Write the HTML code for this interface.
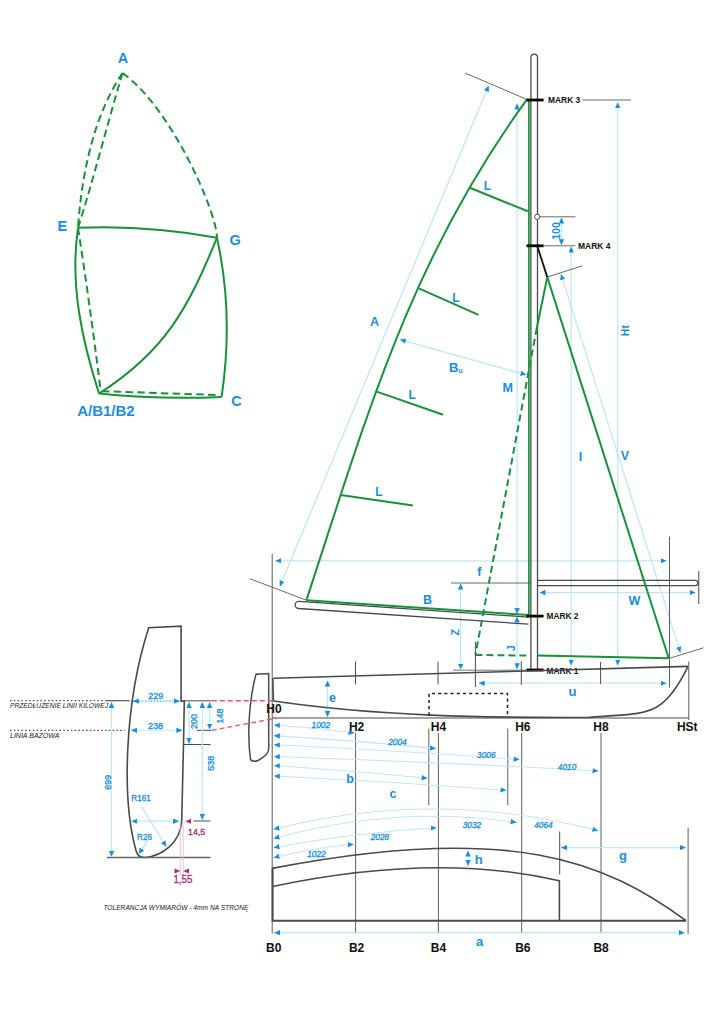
<!DOCTYPE html>
<html><head><meta charset="utf-8"><style>
html,body{margin:0;padding:0;background:#fff;}
svg{display:block;font-family:"Liberation Sans", sans-serif;}
</style></head><body>
<svg width="724" height="1024" viewBox="0 0 724 1024">
<defs>
<marker id="ar" viewBox="0 0 6 5.4" refX="6" refY="2.7" markerWidth="6" markerHeight="5.4" markerUnits="userSpaceOnUse" orient="auto-start-reverse"><path d="M0,0 L6,2.7 L0,5.4 Z" fill="#1a8edc"/></marker>
</defs>
<rect width="724" height="1024" fill="#fff"/>
<path d="M122.5,73.1 Q85.0,128.9 78.0,227.8" stroke="#18923a" stroke-width="2.0" fill="none" stroke-dasharray="7.5 4.3"/>
<path d="M122.5,73.1 C107.7,122.6 93.0,181.2 78.0,227.8" stroke="#18923a" stroke-width="2.0" fill="none" stroke-dasharray="7.5 4.3"/>
<path d="M122.5,73.1 C170.6,106.6 217.5,213.1 216.9,237.8" stroke="#18923a" stroke-width="2.0" fill="none" stroke-dasharray="7.5 4.3"/>
<path d="M78.0,227.8 Q89.3,300.3 100.5,389.3" stroke="#18923a" stroke-width="2.0" fill="none" stroke-dasharray="7.5 4.3"/>
<path d="M101.9,391.2 L219.7,395.1" stroke="#18923a" stroke-width="2.0" fill="none" stroke-dasharray="7.5 4.3"/>
<path d="M78.0,227.8 Q147.3,224.8 216.9,237.8" stroke="#18923a" stroke-width="2.0" fill="none" />
<path d="M78.0,227.8 C69.8,284.7 81.8,339.5 99.0,393.5" stroke="#18923a" stroke-width="2.0" fill="none" />
<path d="M216.9,237.8 Q234.0,313.6 221.6,397.0" stroke="#18923a" stroke-width="2.0" fill="none" />
<path d="M99.0,393.5 Q160.0,399.8 221.6,397.0" stroke="#18923a" stroke-width="2.0" fill="none" />
<path d="M99.0,393.5 C166.0,350.8 188.6,306.9 216.9,237.8" stroke="#18923a" stroke-width="2.0" fill="none" />
<text x="122.9" y="58.3" font-size="14.5" fill="#1a8edc" font-weight="bold" text-anchor="middle" dominant-baseline="central">A</text>
<text x="62.3" y="225.8" font-size="14.5" fill="#1a8edc" font-weight="bold" text-anchor="middle" dominant-baseline="central">E</text>
<text x="235.1" y="240.2" font-size="14.5" fill="#1a8edc" font-weight="bold" text-anchor="middle" dominant-baseline="central">G</text>
<text x="236.4" y="400.6" font-size="14.5" fill="#1a8edc" font-weight="bold" text-anchor="middle" dominant-baseline="central">C</text>
<text x="105.9" y="410.8" font-size="15" fill="#1a8edc" font-weight="bold" text-anchor="middle" dominant-baseline="central" textLength="57.5" lengthAdjust="spacingAndGlyphs">A/B1/B2</text>
<line x1="488.7" y1="85.6" x2="279.8" y2="586.5" stroke="#c2e4f7" stroke-width="1.25" marker-end="url(#ar)" marker-start="url(#ar)"/>
<line x1="465.2" y1="73.1" x2="526.8" y2="99.4" stroke="#6a6a6a" stroke-width="1" />
<line x1="250.0" y1="578.8" x2="306.4" y2="600.2" stroke="#6a6a6a" stroke-width="1" />
<line x1="400.0" y1="339.6" x2="526.4" y2="374.9" stroke="#c2e4f7" stroke-width="1.25" marker-end="url(#ar)" marker-start="url(#ar)"/>
<line x1="517.1" y1="103.5" x2="517.1" y2="614.0" stroke="#c2e4f7" stroke-width="1.25" marker-end="url(#ar)" marker-start="url(#ar)"/>
<line x1="517.1" y1="616.5" x2="517.1" y2="669.3" stroke="#c2e4f7" stroke-width="1.25" marker-end="url(#ar)" marker-start="url(#ar)"/>
<line x1="617.7" y1="102.2" x2="617.7" y2="665.5" stroke="#c2e4f7" stroke-width="1.25" marker-end="url(#ar)" marker-start="url(#ar)"/>
<line x1="571.2" y1="246.5" x2="571.2" y2="665.5" stroke="#c2e4f7" stroke-width="1.25" marker-end="url(#ar)" marker-start="url(#ar)"/>
<line x1="560.9" y1="273.9" x2="680.4" y2="652.7" stroke="#c2e4f7" stroke-width="1.25" marker-end="url(#ar)" marker-start="url(#ar)"/>
<line x1="547.3" y1="277.1" x2="582.1" y2="265.9" stroke="#6a6a6a" stroke-width="1" />
<line x1="669.8" y1="658.2" x2="703.6" y2="647.8" stroke="#6a6a6a" stroke-width="1" />
<line x1="275.4" y1="560.8" x2="666.5" y2="560.8" stroke="#c2e4f7" stroke-width="1.25" marker-end="url(#ar)" marker-start="url(#ar)"/>
<line x1="539.5" y1="592.6" x2="695.5" y2="592.6" stroke="#c2e4f7" stroke-width="1.25" marker-end="url(#ar)" marker-start="url(#ar)"/>
<line x1="460.6" y1="583.5" x2="460.6" y2="669.5" stroke="#c2e4f7" stroke-width="1.25" marker-end="url(#ar)" marker-start="url(#ar)"/>
<line x1="478.7" y1="683.2" x2="666.5" y2="683.2" stroke="#c2e4f7" stroke-width="1.25" marker-end="url(#ar)" marker-start="url(#ar)"/>
<line x1="327.5" y1="680.5" x2="327.5" y2="717.0" stroke="#c2e4f7" stroke-width="1.25" marker-end="url(#ar)" marker-start="url(#ar)"/>
<line x1="561.5" y1="217.5" x2="561.5" y2="245.3" stroke="#c2e4f7" stroke-width="1.25" marker-end="url(#ar)" marker-start="url(#ar)"/>
<line x1="272.2" y1="554.0" x2="272.2" y2="933.5" stroke="#5e5e5e" stroke-width="1" />
<line x1="669.5" y1="536.6" x2="669.5" y2="687.7" stroke="#5e5e5e" stroke-width="1" />
<line x1="698.8" y1="571.0" x2="698.8" y2="604.0" stroke="#4a4a4a" stroke-width="1" />
<line x1="451.0" y1="583.0" x2="530.6" y2="583.0" stroke="#6a6a6a" stroke-width="1" />
<line x1="453.0" y1="670.2" x2="527.0" y2="670.2" stroke="#777" stroke-width="1" />
<line x1="582.6" y1="100.0" x2="631.0" y2="100.0" stroke="#6a6a6a" stroke-width="1" />
<line x1="540.0" y1="216.8" x2="575.4" y2="216.8" stroke="#6a6a6a" stroke-width="1" />
<line x1="543.6" y1="245.8" x2="575.4" y2="245.8" stroke="#6a6a6a" stroke-width="1" />
<path d="M530.9,670 L530.9,57.5 A3.3,3.3 0 0 1 537.5,57.5 L537.5,670" stroke="#4a4a4a" stroke-width="1.3" fill="none" />
<path d="M537.5,580.4 L695.3,580.4 A2.65,2.65 0 0 1 695.3,585.7 L537.5,585.7" stroke="#4a4a4a" stroke-width="1.3" fill="none" />
<path d="M528.5,617.1 L299,601.3 A3.6,3.6 0 0 0 298.5,608.5 L528.5,624.2" stroke="#4a4a4a" stroke-width="1.3" fill="none" />
<path d="M528.9,99.4 L528.9,615.1" stroke="#18923a" stroke-width="1.7" fill="none" />
<path d="M527.0,99.4 C410.7,258.9 367.6,413.6 306.4,600.2" stroke="#18923a" stroke-width="2.0" fill="none" />
<path d="M306.4,600.2 L528.9,615.1" stroke="#18923a" stroke-width="2.0" fill="none" />
<line x1="469.8" y1="187.8" x2="527.8" y2="211.3" stroke="#18923a" stroke-width="2.0" />
<line x1="418.8" y1="288.3" x2="478.5" y2="314.8" stroke="#18923a" stroke-width="2.0" />
<line x1="376.0" y1="391.4" x2="443.1" y2="414.7" stroke="#18923a" stroke-width="2.0" />
<line x1="340.6" y1="495.1" x2="413.0" y2="505.6" stroke="#18923a" stroke-width="2.0" />
<line x1="537.1" y1="245.6" x2="547.3" y2="277.1" stroke="#111" stroke-width="1.8" />
<path d="M547.3,277.1 L536.8,328 " stroke="#18923a" stroke-width="2.0" fill="none" />
<path d="M536.8,328 L475.4,654.9" stroke="#18923a" stroke-width="2.0" fill="none" stroke-dasharray="7 4"/>
<path d="M547.3,277.1 L668.7,658.2" stroke="#18923a" stroke-width="2.0" fill="none" />
<path d="M475.4,654.9 L530.6,655.6" stroke="#18923a" stroke-width="2.0" fill="none" stroke-dasharray="7 4"/>
<path d="M537.2,655.6 L668.7,658.2" stroke="#18923a" stroke-width="2.0" fill="none" />
<line x1="526.5" y1="100.0" x2="543.6" y2="100.0" stroke="#000" stroke-width="2.8" />
<line x1="526.5" y1="245.8" x2="543.6" y2="245.8" stroke="#000" stroke-width="2.8" />
<line x1="526.5" y1="616.1" x2="543.6" y2="616.1" stroke="#000" stroke-width="2.8" />
<line x1="526.5" y1="670.0" x2="543.6" y2="670.0" stroke="#000" stroke-width="2.8" />
<circle cx="537.2" cy="216.8" r="2.6" fill="white" stroke="#4a4a4a" stroke-width="1"/>
<text x="548.0" y="100.3" font-size="9.2" fill="#111" font-weight="bold" text-anchor="start" dominant-baseline="central" textLength="32.3" lengthAdjust="spacingAndGlyphs">MARK 3</text>
<text x="578.0" y="246.0" font-size="9.2" fill="#111" font-weight="bold" text-anchor="start" dominant-baseline="central" textLength="32.5" lengthAdjust="spacingAndGlyphs">MARK 4</text>
<text x="546.5" y="616.4" font-size="9.2" fill="#111" font-weight="bold" text-anchor="start" dominant-baseline="central" textLength="32" lengthAdjust="spacingAndGlyphs">MARK 2</text>
<text x="546.5" y="670.6" font-size="9.2" fill="#111" font-weight="bold" text-anchor="start" dominant-baseline="central" textLength="32" lengthAdjust="spacingAndGlyphs">MARK 1</text>
<text x="556.0" y="231.0" font-size="10.5" fill="#1a8edc" font-weight="bold" text-anchor="middle" dominant-baseline="central" transform="rotate(-90 556.0 231.0)">100</text>
<text x="487.5" y="185.5" font-size="12" fill="#1a8edc" font-weight="bold" text-anchor="middle" dominant-baseline="central">L</text>
<text x="455.9" y="297.6" font-size="12" fill="#1a8edc" font-weight="bold" text-anchor="middle" dominant-baseline="central">L</text>
<text x="412.2" y="395.0" font-size="12" fill="#1a8edc" font-weight="bold" text-anchor="middle" dominant-baseline="central">L</text>
<text x="379.0" y="491.5" font-size="12" fill="#1a8edc" font-weight="bold" text-anchor="middle" dominant-baseline="central">L</text>
<text x="374.6" y="321.5" font-size="12.5" fill="#1a8edc" font-weight="bold" text-anchor="middle" dominant-baseline="central">A</text>
<text x="449" y="367.2" font-size="13" fill="#1a8edc" font-weight="bold" dominant-baseline="central">B<tspan font-size="7" dy="3">u</tspan></text>
<text x="507.8" y="387.7" font-size="12.5" fill="#1a8edc" font-weight="bold" text-anchor="middle" dominant-baseline="central">M</text>
<text x="580.4" y="457.1" font-size="12.5" fill="#1a8edc" font-weight="bold" text-anchor="middle" dominant-baseline="central">I</text>
<text x="624.8" y="456.1" font-size="12.5" fill="#1a8edc" font-weight="bold" text-anchor="middle" dominant-baseline="central">V</text>
<text x="625.2" y="330.6" font-size="10.5" fill="#1a8edc" font-weight="bold" text-anchor="middle" dominant-baseline="central" transform="rotate(-90 625.2 330.6)">Ht</text>
<text x="479.3" y="572.0" font-size="12.5" fill="#1a8edc" font-weight="bold" text-anchor="middle" dominant-baseline="central">f</text>
<text x="634.5" y="601.2" font-size="12.5" fill="#1a8edc" font-weight="bold" text-anchor="middle" dominant-baseline="central">W</text>
<text x="455.5" y="632.3" font-size="10.5" fill="#1a8edc" font-weight="bold" text-anchor="middle" dominant-baseline="central" transform="rotate(-90 455.5 632.3)">Z</text>
<text x="511.5" y="648.2" font-size="10.5" fill="#1a8edc" font-weight="bold" text-anchor="middle" dominant-baseline="central" transform="rotate(-90 511.5 648.2)">J</text>
<text x="427.6" y="599.5" font-size="12.5" fill="#1a8edc" font-weight="bold" text-anchor="middle" dominant-baseline="central">B</text>
<text x="572.4" y="691.5" font-size="13" fill="#1a8edc" font-weight="bold" text-anchor="middle" dominant-baseline="central">u</text>
<text x="332.5" y="697.5" font-size="12.5" fill="#1a8edc" font-weight="bold" text-anchor="middle" dominant-baseline="central">e</text>
<path d="M256,674.3 C249,700 247,735 250.5,759.6 Q253.4,762.5 258,760.5 Q268.5,755 268.7,749 L268.7,673.5 Z" stroke="#4a4a4a" stroke-width="1.5" fill="none" />
<path d="M273.4,678.3 L688.2,666.4" stroke="#4a4a4a" stroke-width="1.6" fill="none" />
<path d="M272.8,678.3 L273.4,701" stroke="#4a4a4a" stroke-width="1.6" fill="none" />
<path d="M273.4,701 C378.3,716.2 484,717.9 590,717.4 C645.3,712.1 662,720.4 688,666.4" stroke="#4a4a4a" stroke-width="1.6" fill="none" />
<line x1="272.2" y1="718.0" x2="688.8" y2="718.0" stroke="#4a4a4a" stroke-width="1.1" />
<line x1="688.8" y1="661.5" x2="688.8" y2="720.0" stroke="#5e5e5e" stroke-width="1" />
<line x1="355.5" y1="661.5" x2="355.5" y2="684.5" stroke="#4a4a4a" stroke-width="1" />
<line x1="438.0" y1="661.5" x2="438.0" y2="684.5" stroke="#4a4a4a" stroke-width="1" />
<line x1="475.4" y1="641.7" x2="475.4" y2="687.0" stroke="#4a4a4a" stroke-width="1" />
<line x1="521.3" y1="661.5" x2="521.3" y2="684.8" stroke="#4a4a4a" stroke-width="1" />
<line x1="600.6" y1="661.8" x2="600.6" y2="683.9" stroke="#4a4a4a" stroke-width="1" />
<path d="M429,715.5 L429,693.6 L507.5,693.6 L507.5,716" stroke="#222" stroke-width="1.5" fill="none" stroke-dasharray="3.2 3"/>
<text x="273.9" y="709.3" font-size="12" fill="#111" font-weight="bold" text-anchor="middle" dominant-baseline="central">H0</text>
<text x="356.6" y="726.5" font-size="12" fill="#111" font-weight="bold" text-anchor="middle" dominant-baseline="central">H2</text>
<text x="438.4" y="726.5" font-size="12" fill="#111" font-weight="bold" text-anchor="middle" dominant-baseline="central">H4</text>
<text x="522.8" y="726.5" font-size="12" fill="#111" font-weight="bold" text-anchor="middle" dominant-baseline="central">H6</text>
<text x="601.0" y="726.5" font-size="12" fill="#111" font-weight="bold" text-anchor="middle" dominant-baseline="central">H8</text>
<text x="687.3" y="726.5" font-size="12" fill="#111" font-weight="bold" text-anchor="middle" dominant-baseline="central">HSt</text>
<line x1="355.6" y1="733.0" x2="355.6" y2="933.5" stroke="#5e5e5e" stroke-width="1" />
<line x1="438.4" y1="733.0" x2="438.4" y2="933.5" stroke="#5e5e5e" stroke-width="1" />
<line x1="521.7" y1="733.0" x2="521.7" y2="933.5" stroke="#5e5e5e" stroke-width="1" />
<line x1="601.0" y1="733.0" x2="601.0" y2="933.5" stroke="#5e5e5e" stroke-width="1" />
<line x1="428.8" y1="728.4" x2="428.8" y2="805.0" stroke="#5e5e5e" stroke-width="1" />
<line x1="507.8" y1="728.4" x2="507.8" y2="805.0" stroke="#5e5e5e" stroke-width="1" />
<line x1="559.7" y1="831.5" x2="559.7" y2="874.3" stroke="#4a4a4a" stroke-width="1" />
<line x1="688.1" y1="827.7" x2="688.1" y2="934.0" stroke="#5e5e5e" stroke-width="1" />
<path d="M273.8,725.0 Q315.0,727.8 354.5,733.0" stroke="#c2e5f7" stroke-width="1.1" fill="none" marker-end="url(#ar)" marker-start="url(#ar)"/>
<path d="M273.8,735.6 Q355.0,740.5 436.0,748.4" stroke="#c2e5f7" stroke-width="1.1" fill="none" marker-end="url(#ar)" marker-start="url(#ar)"/>
<path d="M273.8,744.8 Q395.0,750.5 519.5,759.4" stroke="#c2e5f7" stroke-width="1.1" fill="none" marker-end="url(#ar)" marker-start="url(#ar)"/>
<path d="M273.8,756.5 Q435.0,762.0 598.5,771.0" stroke="#c2e5f7" stroke-width="1.1" fill="none" marker-end="url(#ar)" marker-start="url(#ar)"/>
<path d="M273.8,765.5 Q350.0,770.5 427.5,778.3" stroke="#c2e5f7" stroke-width="1.1" fill="none" marker-end="url(#ar)" marker-start="url(#ar)"/>
<path d="M273.8,776.0 Q390.0,781.5 506.5,790.3" stroke="#c2e5f7" stroke-width="1.1" fill="none" marker-end="url(#ar)" marker-start="url(#ar)"/>
<text x="320.8" y="725.0" font-size="9" fill="#1a8edc" font-weight="normal" text-anchor="middle" dominant-baseline="central" font-style="italic" stroke="#1a8edc" stroke-width="0.35" textLength="18.5" lengthAdjust="spacingAndGlyphs">1002</text>
<text x="397.4" y="741.9" font-size="9" fill="#1a8edc" font-weight="normal" text-anchor="middle" dominant-baseline="central" font-style="italic" stroke="#1a8edc" stroke-width="0.35" textLength="18.5" lengthAdjust="spacingAndGlyphs">2004</text>
<text x="486.3" y="754.5" font-size="9" fill="#1a8edc" font-weight="normal" text-anchor="middle" dominant-baseline="central" font-style="italic" stroke="#1a8edc" stroke-width="0.35" textLength="18.5" lengthAdjust="spacingAndGlyphs">3006</text>
<text x="567.1" y="766.5" font-size="9" fill="#1a8edc" font-weight="normal" text-anchor="middle" dominant-baseline="central" font-style="italic" stroke="#1a8edc" stroke-width="0.35" textLength="18.5" lengthAdjust="spacingAndGlyphs">4010</text>
<text x="350.0" y="779.3" font-size="12.5" fill="#1a8edc" font-weight="bold" text-anchor="middle" dominant-baseline="central">b</text>
<text x="393.0" y="793.5" font-size="12.5" fill="#1a8edc" font-weight="bold" text-anchor="middle" dominant-baseline="central">c</text>
<path d="M271.8,868.4 C512.0,822.0 605.1,861.6 686.0,920.6" stroke="#4a4a4a" stroke-width="1.6" fill="none" />
<path d="M272.4,886.5 Q435.8,852.1 559.4,880.8 L559.4,920.6" stroke="#4a4a4a" stroke-width="1.6" fill="none" />
<path d="M272.6,868.4 L272.6,920.8 L686,920.8" stroke="#4a4a4a" stroke-width="2" fill="none" />
<line x1="274.0" y1="932.7" x2="684.8" y2="932.7" stroke="#c2e4f7" stroke-width="1.25" marker-end="url(#ar)" marker-start="url(#ar)"/>
<path d="M273.5,857.7 Q314.0,847.5 353.8,844.3" stroke="#c2e5f7" stroke-width="1.1" fill="none" marker-end="url(#ar)" marker-start="url(#ar)"/>
<path d="M273.5,847.7 Q355.0,832.5 436.6,827.8" stroke="#c2e5f7" stroke-width="1.1" fill="none" marker-end="url(#ar)" marker-start="url(#ar)"/>
<path d="M273.5,838.5 Q395.0,804.4 516.6,822.4" stroke="#c2e5f7" stroke-width="1.1" fill="none" marker-end="url(#ar)" marker-start="url(#ar)"/>
<path d="M273.5,829.3 Q436.0,788.0 598.3,830.8" stroke="#c2e5f7" stroke-width="1.1" fill="none" marker-end="url(#ar)" marker-start="url(#ar)"/>
<text x="316.5" y="854.2" font-size="9" fill="#1a8edc" font-weight="normal" text-anchor="middle" dominant-baseline="central" font-style="italic" stroke="#1a8edc" stroke-width="0.35" textLength="18.5" lengthAdjust="spacingAndGlyphs">1022</text>
<text x="379.9" y="837.3" font-size="9" fill="#1a8edc" font-weight="normal" text-anchor="middle" dominant-baseline="central" font-style="italic" stroke="#1a8edc" stroke-width="0.35" textLength="18.5" lengthAdjust="spacingAndGlyphs">2028</text>
<text x="471.9" y="825.0" font-size="9" fill="#1a8edc" font-weight="normal" text-anchor="middle" dominant-baseline="central" font-style="italic" stroke="#1a8edc" stroke-width="0.35" textLength="18.5" lengthAdjust="spacingAndGlyphs">3032</text>
<text x="543.5" y="825.0" font-size="9" fill="#1a8edc" font-weight="normal" text-anchor="middle" dominant-baseline="central" font-style="italic" stroke="#1a8edc" stroke-width="0.35" textLength="18.5" lengthAdjust="spacingAndGlyphs">4064</text>
<line x1="468.1" y1="850.5" x2="468.1" y2="866.0" stroke="#c2e4f7" stroke-width="1.25" marker-end="url(#ar)" marker-start="url(#ar)"/>
<text x="478.7" y="859.3" font-size="13" fill="#1a8edc" font-weight="bold" text-anchor="middle" dominant-baseline="central">h</text>
<line x1="561.0" y1="847.6" x2="685.9" y2="847.6" stroke="#c2e4f7" stroke-width="1.25" marker-end="url(#ar)" marker-start="url(#ar)"/>
<text x="622.9" y="855.5" font-size="13" fill="#1a8edc" font-weight="bold" text-anchor="middle" dominant-baseline="central">g</text>
<text x="479.7" y="941.5" font-size="13" fill="#1a8edc" font-weight="bold" text-anchor="middle" dominant-baseline="central">a</text>
<text x="273.7" y="947.7" font-size="12" fill="#111" font-weight="bold" text-anchor="middle" dominant-baseline="central">B0</text>
<text x="356.6" y="947.7" font-size="12" fill="#111" font-weight="bold" text-anchor="middle" dominant-baseline="central">B2</text>
<text x="438.4" y="947.7" font-size="12" fill="#111" font-weight="bold" text-anchor="middle" dominant-baseline="central">B4</text>
<text x="522.8" y="947.7" font-size="12" fill="#111" font-weight="bold" text-anchor="middle" dominant-baseline="central">B6</text>
<text x="601.1" y="947.7" font-size="12" fill="#111" font-weight="bold" text-anchor="middle" dominant-baseline="central">B8</text>
<path d="M148.7,627.7 C125.0,701.3 121.0,798.5 136.3,851.5 Q138.3,857.9 145,857.5 C162,856 180.5,843 181.7,820.8 L183.5,744.5 L184.3,701.1 L181.1,701.1 L181.1,626.2 Z" stroke="#4a4a4a" stroke-width="1.6" fill="none" />
<line x1="10.0" y1="700.7" x2="105.4" y2="700.7" stroke="#555" stroke-width="1.2" stroke-dasharray="1.6 2.2"/>
<line x1="105.4" y1="700.7" x2="129.7" y2="700.7" stroke="#4a4a4a" stroke-width="1.1" />
<line x1="10.0" y1="730.3" x2="124.7" y2="730.3" stroke="#555" stroke-width="1.2" stroke-dasharray="1.6 2.2"/>
<line x1="184.3" y1="700.8" x2="211.5" y2="700.8" stroke="#4a4a4a" stroke-width="1" />
<line x1="197.0" y1="730.3" x2="211.5" y2="730.3" stroke="#4a4a4a" stroke-width="1" />
<line x1="183.5" y1="744.5" x2="210.5" y2="744.5" stroke="#4a4a4a" stroke-width="1" />
<line x1="193.4" y1="821.0" x2="210.5" y2="821.0" stroke="#4a4a4a" stroke-width="1" />
<line x1="107.0" y1="857.5" x2="210.5" y2="857.5" stroke="#666" stroke-width="1.3" />
<text x="10.0" y="705.5" font-size="8" fill="#222" font-weight="normal" text-anchor="start" dominant-baseline="central" font-style="italic" textLength="98" lengthAdjust="spacingAndGlyphs">PRZEDŁUŻENIE LINII KILOWEJ</text>
<text x="10.0" y="735.1" font-size="8" fill="#222" font-weight="normal" text-anchor="start" dominant-baseline="central" font-style="italic" textLength="49.5" lengthAdjust="spacingAndGlyphs">LINIA BAZOWA</text>
<line x1="132.8" y1="701.1" x2="179.8" y2="701.1" stroke="#1a8edc" stroke-width="1" marker-end="url(#ar)" marker-start="url(#ar)" stroke-dasharray="1.5 1.5"/>
<line x1="131.0" y1="730.3" x2="182.4" y2="730.3" stroke="#c2e4f7" stroke-width="1" marker-end="url(#ar)" marker-start="url(#ar)"/>
<line x1="111.5" y1="702.0" x2="111.5" y2="856.7" stroke="#c2e4f7" stroke-width="1.25" marker-end="url(#ar)" marker-start="url(#ar)"/>
<line x1="189.0" y1="702.0" x2="189.0" y2="743.8" stroke="#c2e4f7" stroke-width="1.25" marker-end="url(#ar)" marker-start="url(#ar)"/>
<line x1="202.3" y1="702.0" x2="202.3" y2="820.0" stroke="#c2e4f7" stroke-width="1.25" marker-end="url(#ar)" marker-start="url(#ar)"/>
<line x1="209.6" y1="702.0" x2="209.6" y2="729.5" stroke="#c2e4f7" stroke-width="1.25" marker-end="url(#ar)" marker-start="url(#ar)"/>
<line x1="131.4" y1="821.2" x2="179.0" y2="821.2" stroke="#c2e4f7" stroke-width="1.2" marker-end="url(#ar)" marker-start="url(#ar)"/>
<line x1="141.3" y1="806.4" x2="166.4" y2="846.8" stroke="#c2e4f7" stroke-width="1.25" marker-end="url(#ar)"/>
<line x1="147.6" y1="840.6" x2="138.6" y2="854.0" stroke="#c2e4f7" stroke-width="1.25" marker-end="url(#ar)"/>
<text x="155.7" y="695.6" font-size="9.5" fill="#1a8edc" font-weight="normal" text-anchor="middle" dominant-baseline="central" stroke="#1a8edc" stroke-width="0.35" textLength="15" lengthAdjust="spacingAndGlyphs">229</text>
<text x="155.4" y="725.3" font-size="9.5" fill="#1a8edc" font-weight="normal" text-anchor="middle" dominant-baseline="central" stroke="#1a8edc" stroke-width="0.35" textLength="15" lengthAdjust="spacingAndGlyphs">238</text>
<text x="107.2" y="782.2" font-size="9.5" fill="#1a8edc" font-weight="normal" text-anchor="middle" dominant-baseline="central" transform="rotate(-90 107.2 782.2)" stroke="#1a8edc" stroke-width="0.35" textLength="15" lengthAdjust="spacingAndGlyphs">699</text>
<text x="193.8" y="721.6" font-size="9.5" fill="#1a8edc" font-weight="normal" text-anchor="middle" dominant-baseline="central" transform="rotate(-90 193.8 721.6)" stroke="#1a8edc" stroke-width="0.35" textLength="15" lengthAdjust="spacingAndGlyphs">200</text>
<text x="219.7" y="716.0" font-size="9.5" fill="#1a8edc" font-weight="normal" text-anchor="middle" dominant-baseline="central" transform="rotate(-90 219.7 716.0)" stroke="#1a8edc" stroke-width="0.35" textLength="15" lengthAdjust="spacingAndGlyphs">148</text>
<text x="210.4" y="763.3" font-size="9.5" fill="#1a8edc" font-weight="normal" text-anchor="middle" dominant-baseline="central" transform="rotate(-90 210.4 763.3)" stroke="#1a8edc" stroke-width="0.35" textLength="15" lengthAdjust="spacingAndGlyphs">538</text>
<text x="141.0" y="797.8" font-size="9.5" fill="#1a8edc" font-weight="normal" text-anchor="middle" dominant-baseline="central" stroke="#1a8edc" stroke-width="0.35" textLength="19.5" lengthAdjust="spacingAndGlyphs">R161</text>
<text x="144.5" y="836.1" font-size="9.5" fill="#1a8edc" font-weight="normal" text-anchor="middle" dominant-baseline="central" stroke="#1a8edc" stroke-width="0.35" textLength="15" lengthAdjust="spacingAndGlyphs">R26</text>
<line x1="180.3" y1="822.0" x2="180.3" y2="876.0" stroke="#e8b8d0" stroke-width="0.8" />
<line x1="183.2" y1="822.0" x2="183.2" y2="876.0" stroke="#e8b8d0" stroke-width="0.8" />
<path d="M185.3,821.2 L191,818.7 L191,823.7 Z" fill="#a3326f"/>
<path d="M180.3,871.1 L174.5,868.6 L174.5,873.6 Z" fill="#a3326f"/>
<path d="M183.2,871.1 L189,868.6 L189,873.6 Z" fill="#a3326f"/>
<text x="196.6" y="831.6" font-size="9.5" fill="#a3326f" font-weight="normal" text-anchor="middle" dominant-baseline="central" stroke="#a3326f" stroke-width="0.35" textLength="17" lengthAdjust="spacingAndGlyphs">14,5</text>
<text x="182.9" y="879.2" font-size="11" fill="#a3326f" font-weight="normal" text-anchor="middle" dominant-baseline="central" stroke="#a3326f" stroke-width="0.35" textLength="19" lengthAdjust="spacingAndGlyphs">1,55</text>
<text x="103.4" y="907.2" font-size="7.9" fill="#222" font-weight="normal" text-anchor="start" dominant-baseline="central" font-style="italic" textLength="145" lengthAdjust="spacingAndGlyphs">TOLERANCJA WYMIARÓW - 4mm NA STRONĘ</text>
<line x1="211.8" y1="700.8" x2="272.0" y2="700.8" stroke="#e8556a" stroke-width="1.4" stroke-dasharray="5 3"/>
<line x1="211.8" y1="730.3" x2="277.0" y2="718.0" stroke="#e8556a" stroke-width="1.4" stroke-dasharray="5 3"/>
</svg>
</body></html>
